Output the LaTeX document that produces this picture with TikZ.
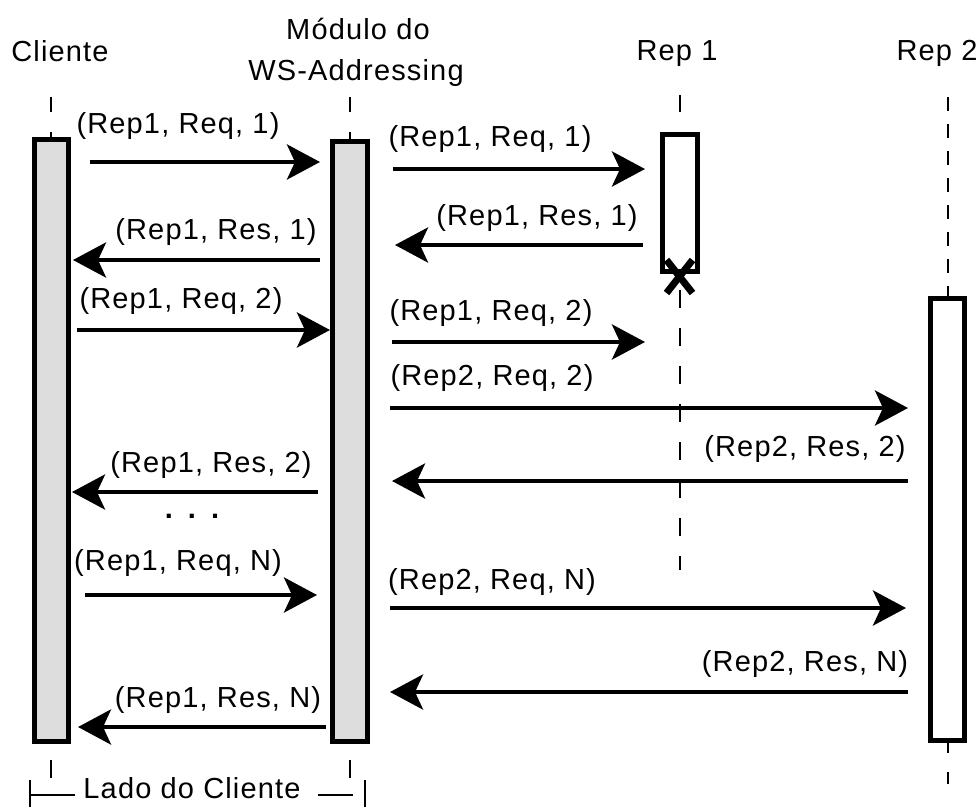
\documentclass[tikz,border=0pt]{standalone}
\usepackage{fontspec}
\setmainfont{Liberation Sans}[LetterSpace=4]
\usetikzlibrary{arrows.meta}
\definecolor{actfill}{RGB}{221,221,221}

\begin{document}
\begin{tikzpicture}[x=1pt,y=-1pt,
  lbl/.style={font=\fontsize{29}{33}\selectfont, anchor=base, inner sep=0pt},
  msg/.style={line width=4.5pt, -{Stealth[length=33pt,width=35pt,inset=8pt]}},
  life/.style={line width=2pt},
  actbox/.style={draw, line width=5pt, inner sep=0pt, outer sep=0pt},
  xmark/.style={line width=7pt},
  bracket/.style={line width=2pt},
]
\useasboundingbox (0,0) rectangle (979,807);

% participant headings
\node[lbl] (hcli)  at (60,61)  {Cliente};
\node[lbl] (hmod1) at (358,39) {Módulo do};
\node[lbl] (hmod2) at (356,80) {WS-Addressing};
\node[lbl] (hrep1) at (677,60) {Rep 1};
\node[lbl] (hrep2) at (937,60) {Rep 2};

% lifelines (drawn before the activation bars)
\draw[life, dash pattern=on 15pt off 20pt] (51,97) -- (51,139);
\draw[life, dash pattern=on 18pt off 16pt] (51,778) -- (51,741);
\draw[life, dash pattern=on 15pt off 20pt] (350,97) -- (350,141);
\draw[life, dash pattern=on 18pt off 16pt] (350,778) -- (350,741);
\draw[life, dash pattern=on 17pt off 20pt] (679.5,95) -- (679.5,134);
\draw[life, dash pattern=on 18pt off 20pt] (679.5,290) -- (679.5,570);
\draw[life, dash pattern=on 14pt off 13pt] (947.5,97) -- (947.5,298);
\draw[life, dash pattern=on 12pt off 19pt] (947.5,741) -- (947.5,784);

% activation bars
\node[actbox, fill=actfill, minimum width=34pt, minimum height=602.5pt] (cli)  at (51,440.25) {};
\node[actbox, fill=actfill, minimum width=35pt, minimum height=600pt]   (mod)  at (350,441.5) {};
\node[actbox, fill=white,   minimum width=35pt, minimum height=137pt]   (rep1) at (679.5,202.5) {};
\node[actbox, fill=white,   minimum width=34pt, minimum height=442pt]   (rep2) at (947.5,519.5) {};

% end of Rep 1
\draw[xmark] ([xshift=-13pt]rep1.south |- 0,260) -- ([xshift=13pt]rep1.south |- 0,293);
\draw[xmark] ([xshift=13pt]rep1.south |- 0,260) -- ([xshift=-13pt]rep1.south |- 0,293);

% messages
\draw[msg] ([xshift=22pt]cli.east |- 0,162) -- ([xshift=-12.5pt]mod.west |- 0,162);
\node[lbl] (m1) at (178,133) {(Rep1, Req, 1)};

\draw[msg] ([xshift=25.5pt]mod.east |- 0,169) -- ([xshift=-17pt]rep1.west |- 0,169);
\node[lbl] (m2) at (490,146) {(Rep1, Req, 1)};

\draw[msg] ([xshift=-19pt]rep1.west |- 0,245) -- ([xshift=27.5pt]mod.east |- 0,245);
\node[lbl] (m3) at (537,225) {(Rep1, Res, 1)};

\draw[msg] ([xshift=-12.5pt]mod.west |- 0,260) -- ([xshift=5pt]cli.east |- 0,260);
\node[lbl] (m4) at (216,239) {(Rep1, Res, 1)};

\draw[msg] ([xshift=9pt]cli.east |- 0,330) -- ([xshift=-2.5pt]mod.west |- 0,330);
\node[lbl] (m5) at (181,308) {(Rep1, Req, 2)};

\draw[msg] ([xshift=24.5pt]mod.east |- 0,342) -- ([xshift=-17pt]rep1.west |- 0,342);
\node[lbl] (m6) at (491,320) {(Rep1, Req, 2)};

\draw[msg] ([xshift=22.5pt]mod.east |- 0,408) -- ([xshift=-22.5pt]rep2.west |- 0,408);
\node[lbl] (m7) at (492,385) {(Rep2, Req, 2)};

\draw[msg] ([xshift=-22.5pt]rep2.west |- 0,481) -- ([xshift=24.5pt]mod.east |- 0,481);
\node[lbl] (m8) at (805,456) {(Rep2, Res, 2)};

\draw[msg] ([xshift=-14.5pt]mod.west |- 0,492) -- ([xshift=4pt]cli.east |- 0,492);
\node[lbl] (m9) at (211,472) {(Rep1, Res, 2)};

\node[lbl, font=\fontsize{29}{33}\selectfont\bfseries] (dots) at (192,518) {.\hspace{15pt}.\hspace{15pt}.};

\draw[msg] ([xshift=17pt]cli.east |- 0,595) -- ([xshift=-15.5pt]mod.west |- 0,595);
\node[lbl] (m11) at (178,570) {(Rep1, Req, N)};

\draw[msg] ([xshift=22.5pt]mod.east |- 0,608) -- ([xshift=-24.5pt]rep2.west |- 0,608);
\node[lbl] (m12) at (492,589) {(Rep2, Req, N)};

\draw[msg] ([xshift=-22.5pt]rep2.west |- 0,692) -- ([xshift=22.5pt]mod.east |- 0,692);
\node[lbl] (m13) at (805,671) {(Rep2, Res, N)};

\draw[msg] ([xshift=-6.5pt]mod.west |- 0,727) -- ([xshift=10pt]cli.east |- 0,727);
\node[lbl] (m14) at (218,707) {(Rep1, Res, N)};

% client side bracket
\node[lbl] (lado) at (192,798) {Lado do Cliente};
\draw[bracket] (30,780) -- (30,807);
\draw[bracket] (30,795) -- (75,795);
\draw[bracket] (318,795) -- (353,795);
\draw[bracket] (365,780) -- (365,807);
\end{tikzpicture}
\end{document}
